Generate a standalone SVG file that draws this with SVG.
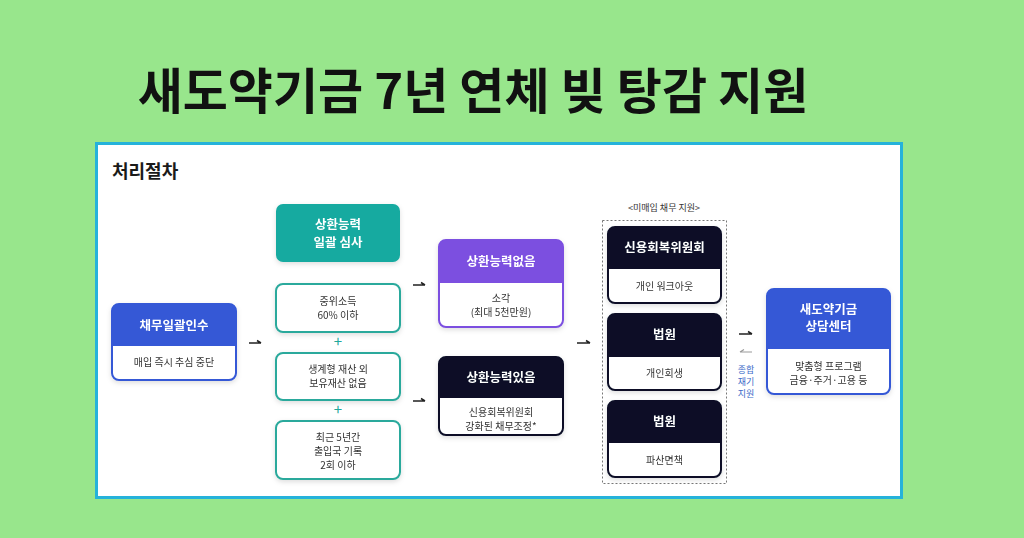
<svg xmlns="http://www.w3.org/2000/svg" width="1024" height="538" viewBox="0 0 1024 538">
<defs>
<filter id="sh" x="-20%" y="-20%" width="140%" height="150%">
<feDropShadow dx="0" dy="2" stdDeviation="2.5" flood-color="#000" flood-opacity="0.13"/>
</filter>
<style>
.t{font-family:"Noto Sans CJK KR","Noto Sans",sans-serif;}
.title{font-size:49px;font-weight:700;fill:#111;}
.sec{font-size:18px;font-weight:700;fill:#1a1a1a;}
.hd{font-size:12.5px;font-weight:700;fill:#fff;}
.bd{font-size:10px;fill:#333;}
.sm{font-size:9px;fill:#333;}
.plus{font-size:15px;fill:#1fa89c;}
.blue{font-size:9px;fill:#3d6cc9;}
.arr{stroke:#222;stroke-width:1.5;fill:none;}
.arrg{stroke:#999;stroke-width:1.2;fill:none;}
.crit{fill:#fff;stroke:#2aa99c;stroke-width:2;}
</style>
</defs>
<rect x="0" y="0" width="1024" height="538" fill="#98e68c"/>
<text class="t title" x="473" y="109" text-anchor="middle">새도약기금 7년 연체 빚 탕감 지원</text>
<rect x="96.5" y="143.5" width="805" height="354" fill="#fff" stroke="#25b2da" stroke-width="3"/>
<text class="t sec" x="112" y="178">처리절차</text>

<g id="n-intake" filter="url(#sh)">
<rect x="112" y="304" width="124" height="76" rx="7" fill="#fff" stroke="#3458d6" stroke-width="2"/>
<path d="M112,346 V311 a7,7 0 0 1 7,-7 H229 a7,7 0 0 1 7,7 V346 Z" fill="#3458d6"/>
<text class="t hd" x="174" y="330" text-anchor="middle">채무일괄인수</text>
<text class="t bd" x="174" y="366" text-anchor="middle">매입 즉시 추심 중단</text>
</g>

<g id="n-review" filter="url(#sh)">
<rect x="276" y="204" width="124" height="58" rx="7" fill="#17aaa0"/>
<text class="t hd" x="338" y="229" text-anchor="middle">상환능력</text>
<text class="t hd" x="338" y="247" text-anchor="middle">일괄 심사</text>
</g>

<g id="n-c1" filter="url(#sh)">
<rect class="crit" x="276" y="284" width="124" height="48" rx="7"/>
<text class="t bd" x="338" y="305" text-anchor="middle">중위소득</text>
<text class="t bd" x="338" y="319" text-anchor="middle">60% 이하</text>
</g>
<text class="t plus" x="338" y="347" text-anchor="middle">+</text>
<g id="n-c2" filter="url(#sh)">
<rect class="crit" x="276" y="353" width="124" height="47" rx="7"/>
<text class="t bd" x="338" y="373" text-anchor="middle">생계형 재산 외</text>
<text class="t bd" x="338" y="387" text-anchor="middle">보유재산 없음</text>
</g>
<text class="t plus" x="338" y="415" text-anchor="middle">+</text>
<g id="n-c3" filter="url(#sh)">
<rect class="crit" x="276" y="421" width="124" height="58" rx="7"/>
<text class="t bd" x="338" y="441" text-anchor="middle">최근 5년간</text>
<text class="t bd" x="338" y="455" text-anchor="middle">출입국 기록</text>
<text class="t bd" x="338" y="469" text-anchor="middle">2회 이하</text>
</g>

<g id="n-none" filter="url(#sh)">
<rect x="439" y="240" width="124" height="87" rx="7" fill="#fff" stroke="#7b4fe0" stroke-width="2"/>
<path d="M439,283 V247 a7,7 0 0 1 7,-7 H556 a7,7 0 0 1 7,7 V283 Z" fill="#7b4fe0"/>
<text class="t hd" x="501" y="266" text-anchor="middle">상환능력없음</text>
<text class="t bd" x="501" y="302" text-anchor="middle">소각</text>
<text class="t bd" x="501" y="316" text-anchor="middle">(최대 5천만원)</text>
</g>

<g id="n-has" filter="url(#sh)">
<rect x="439" y="357" width="124" height="78" rx="7" fill="#fff" stroke="#0b1128" stroke-width="2"/>
<path d="M439,398 V364 a7,7 0 0 1 7,-7 H556 a7,7 0 0 1 7,7 V398 Z" fill="#0b1128"/>
<text class="t hd" x="501" y="382" text-anchor="middle">상환능력있음</text>
<text class="t bd" x="501" y="416" text-anchor="middle">신용회복위원회</text>
<text class="t bd" x="501" y="430" text-anchor="middle">강화된 채무조정*</text>
</g>

<g id="g-unbought">
<text class="t sm" x="664" y="211" text-anchor="middle">&lt;미매입 채무 지원&gt;</text>
<rect x="602.5" y="220.5" width="124" height="263" fill="none" stroke="#777" stroke-width="1" stroke-dasharray="2,2"/>
</g>

<g id="n-ccrs" filter="url(#sh)">
<rect x="608" y="227" width="113" height="76" rx="7" fill="#fff" stroke="#0b1128" stroke-width="2"/>
<path d="M608,269 V234 a7,7 0 0 1 7,-7 H714 a7,7 0 0 1 7,7 V269 Z" fill="#0b1128"/>
<text class="t hd" x="664.5" y="252" text-anchor="middle">신용회복위원회</text>
<text class="t bd" x="664.5" y="290" text-anchor="middle">개인 워크아웃</text>
</g>

<g id="n-court1" filter="url(#sh)">
<rect x="608" y="314" width="113" height="76" rx="7" fill="#fff" stroke="#0b1128" stroke-width="2"/>
<path d="M608,357 V321 a7,7 0 0 1 7,-7 H714 a7,7 0 0 1 7,7 V357 Z" fill="#0b1128"/>
<text class="t hd" x="664.5" y="339" text-anchor="middle">법원</text>
<text class="t bd" x="664.5" y="377" text-anchor="middle">개인회생</text>
</g>

<g id="n-court2" filter="url(#sh)">
<rect x="608" y="401" width="113" height="76" rx="7" fill="#fff" stroke="#0b1128" stroke-width="2"/>
<path d="M608,443 V408 a7,7 0 0 1 7,-7 H714 a7,7 0 0 1 7,7 V443 Z" fill="#0b1128"/>
<text class="t hd" x="664.5" y="426" text-anchor="middle">법원</text>
<text class="t bd" x="664.5" y="464" text-anchor="middle">파산면책</text>
</g>

<g id="n-center" filter="url(#sh)">
<rect x="767" y="289" width="123" height="105" rx="7" fill="#fff" stroke="#3458d6" stroke-width="2"/>
<path d="M767,349 V296 a7,7 0 0 1 7,-7 H883 a7,7 0 0 1 7,7 V349 Z" fill="#3458d6"/>
<text class="t hd" x="828.5" y="314" text-anchor="middle">새도약기금</text>
<text class="t hd" x="828.5" y="331" text-anchor="middle">상담센터</text>
<text class="t bd" x="828.5" y="370" text-anchor="middle">맞춤형 프로그램</text>
<text class="t bd" x="828.5" y="384" text-anchor="middle">금융·주거·고용 등</text>
</g>

<g id="connectors">
<path class="arr" d="M249,343 H261 M257,340.5 L261,343"/>
<path class="arr" d="M413,285 H425 M421,282.5 L425,285"/>
<path class="arr" d="M413,401 H425 M421,398.5 L425,401"/>
<path class="arr" d="M577,343 H590 M586,340.5 L590,343"/>
<path class="arr" d="M739,334 H752 M748,331.5 L752,334"/>
<path class="arrg" d="M740,352 H752 M744,349.5 L740,352"/>
<text class="t blue" x="746" y="373" text-anchor="middle">종합</text>
<text class="t blue" x="746" y="385" text-anchor="middle">재기</text>
<text class="t blue" x="746" y="397" text-anchor="middle">지원</text>
</g>
</svg>
